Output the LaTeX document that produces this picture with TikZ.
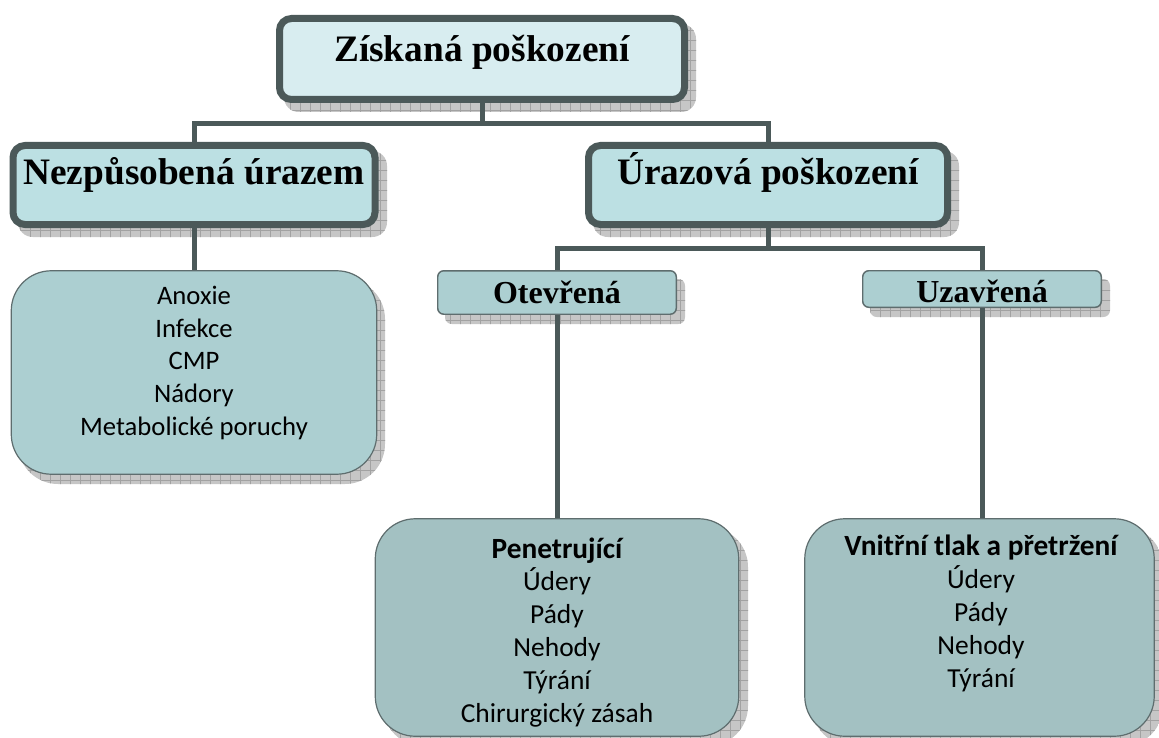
\documentclass[tikz,border=0pt]{standalone}
\usepackage{fontspec}
\setmainfont{Liberation Serif}
\newfontfamily\bodyfont{Carlito}
\definecolor{dark}{HTML}{4B5959}
\definecolor{thinline}{HTML}{5E6D6E}
\definecolor{topfill}{HTML}{D8EDF0}
\definecolor{midfill}{HTML}{BCE0E3}
\definecolor{lowfill}{HTML}{ACCFD1}
\definecolor{botfill}{HTML}{A3C1C2}
\definecolor{shadefill}{HTML}{C6C6C6}
\definecolor{shadegrid}{HTML}{A2A2A2}
\newcommand\boxshade[5]{%
  \begin{scope}
    \clip[rounded corners=#5] (#1+8,#2+9) rectangle (#3+8,#4+9);
    \fill[shadefill] (#1,#2) rectangle (#3+10,#4+10);
    \draw[shadegrid, line width=0.4pt, step=7.5pt] (#1,#4+10) grid (#3+10,#2);
  \end{scope}}
\newcommand\boldline[1]{{\fontsize{22}{24.6}\selectfont\bfseries #1}}
\tikzset{
  bigbox/.style={draw=dark, line width=5.25pt, rounded corners=9pt, inner sep=0pt},
  midbox/.style={draw=thinline, line width=1.1pt, fill=lowfill, rounded corners=4.5pt, inner sep=0pt},
  bodybox/.style={draw=thinline, line width=0.9pt, rounded corners=30pt, inner sep=0pt},
  bigtxt/.style={font=\fontsize{28}{34}\selectfont\bfseries, inner sep=0pt},
  midtxt/.style={font=\fontsize{24}{29}\selectfont\bfseries, inner sep=0pt},
  bodytxt/.style={font=\bodyfont\fontsize{20}{24.4}\selectfont, align=center, inner sep=0pt},
  lowtxt/.style={font=\bodyfont\fontsize{20.6}{24.6}\selectfont, align=center, inner sep=0pt},
  conn/.style={draw=dark, line width=3.75pt}
}
\begin{document}
\begin{tikzpicture}[x=0.75pt,y=-0.75pt]
\useasboundingbox (0,0) rectangle (1159,738);
% shadows
\boxshade{276}{15}{688}{103}{11pt}
\boxshade{10}{142}{379}{228}{11pt}
\boxshade{585}{142}{951}{228}{11pt}
\boxshade{437}{270}{677}{315}{5pt}
\boxshade{862}{270}{1102}{308}{5pt}
\boxshade{10}{270}{377}{475}{30pt}
\boxshade{375}{518}{740}{737}{30pt}
\boxshade{804}{518}{1155}{737}{30pt}
% boxes
\node[bigbox, fill=topfill, minimum width=303.75pt, minimum height=60.75pt] (top) at (482,59) {};
\node[bigbox, fill=midfill, minimum width=271.5pt, minimum height=59.25pt] (nez) at (194,185) {};
\node[bigbox, fill=midfill, minimum width=269.25pt, minimum height=59.25pt] (uraz) at (768,185) {};
\node[midbox, minimum width=178.9pt, minimum height=32.6pt] (otev) at (557,292.5) {};
\node[midbox, minimum width=178.9pt, minimum height=27.4pt] (uzav) at (982,289) {};
\node[bodybox, fill=lowfill, minimum width=274.1pt, minimum height=152.6pt] (anox) at (194,372.5) {};
\node[bodybox, fill=botfill, minimum width=272.6pt, minimum height=163.1pt] (pen) at (557,627.5) {};
\node[bodybox, fill=botfill, minimum width=262.1pt, minimum height=163.1pt] (vni) at (979.5,627.5) {};
% connectors
\coordinate (j1) at (482,124);
\coordinate (j2) at (768,248);
\draw[conn] (top.south) -- (j1);
\draw[conn] (nez.north) |- (j1) -| (uraz.north);
\draw[conn] (nez.south) -- (anox.north);
\draw[conn] (uraz.south) -- (j2);
\draw[conn] (otev.north) |- (j2) -| (uzav.north);
\draw[conn] (otev.south) -- (pen.north);
\draw[conn] (uzav.south) -- (uzav.south |- vni.north);
% texts
\node[bigtxt, anchor=base] (ttop) at (482,62) {Získaná poškození};
\node[bigtxt, anchor=base] (tnez) at (194,185) {Nezpůsobená úrazem};
\node[bigtxt, anchor=base] (turaz) at (768,185) {Úrazová poškození};
\node[midtxt, anchor=base] (totev) at (557,303) {Otevřená};
\node[midtxt, anchor=base] (tuzav) at (982,302) {Uzavřená};
\node[bodytxt, anchor=base] (tanox) at (194,435) {Anoxie\\Infekce\\CMP\\Nádory\\Metabolické poruchy};
\node[lowtxt, anchor=base] (tpen) at (557,722) {\boldline{Penetrující}\\Údery\\Pády\\Nehody\\Týrání\\Chirurgický zásah};
\node[lowtxt, anchor=base] (tvni) at (981,687) {\boldline{Vnitřní tlak a přetržení}\\Údery\\Pády\\Nehody\\Týrání};
\end{tikzpicture}
\end{document}
